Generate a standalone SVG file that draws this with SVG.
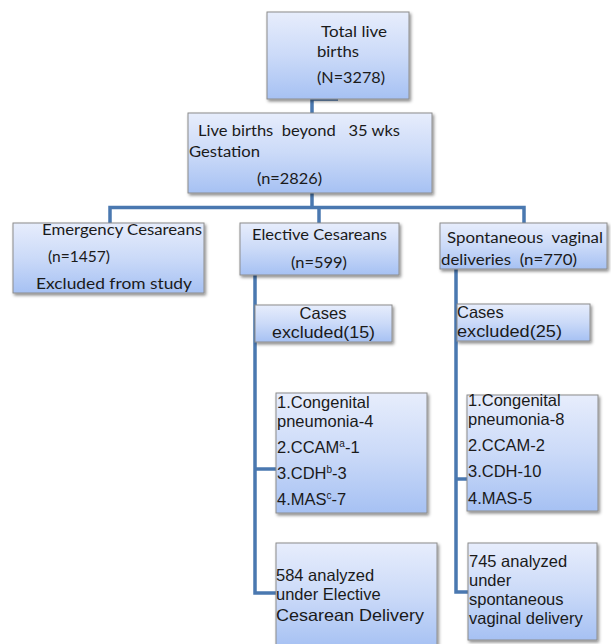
<svg xmlns="http://www.w3.org/2000/svg" width="611" height="644" viewBox="0 0 611 644">
<defs>
<linearGradient id="bg" x1="0" y1="0" x2="0" y2="1">
<stop offset="0" stop-color="#e7edfc"/>
<stop offset="0.5" stop-color="#cbdaf8"/>
<stop offset="1" stop-color="#a6c1f3"/>
</linearGradient>
<filter id="sh" x="-10%" y="-10%" width="130%" height="130%">
<feDropShadow dx="1.5" dy="2" stdDeviation="1.5" flood-color="#000" flood-opacity="0.45"/>
</filter>
</defs>
<style>
.box{fill:url(#bg);stroke:#8c8c8c;stroke-width:1;filter:url(#sh)}
.c{font-family:Lato,"Open Sans",sans-serif;font-size:15.5px;fill:#1a1a1a}
.a{font-family:"Liberation Sans",Arial,sans-serif;font-size:16.5px;fill:#1a1a1a}
.a2{font-family:"Liberation Sans",Arial,sans-serif;font-size:16.5px;fill:#1a1a1a}
.sup{font-size:10px}
.ln{fill:none;stroke:#4a78b0;stroke-width:3.5}
</style>
<rect width="611" height="644" fill="#fff"/>
<g id="connectors">
<path class="ln" d="M338,99 H312 V113"/>
<path class="ln" d="M312,193 V207.5"/>
<path class="ln" d="M110,223 V207.5 H524 V223"/>
<path class="ln" d="M319,207.5 V223"/>
<path class="ln" d="M255,275 V593 H277"/>
<path class="ln" d="M255,469 H277"/>
<path class="ln" d="M456,269 V592 H469"/>
<path class="ln" d="M456,479 H468"/>
</g>
<g id="total">
<rect class="box" x="267" y="12" width="142" height="87"/>
<text class="c" x="321" y="37" textLength="66" lengthAdjust="spacingAndGlyphs">Total live</text>
<text class="c" x="317" y="57" textLength="42" lengthAdjust="spacingAndGlyphs">births</text>
<text class="c" x="317" y="83" textLength="68" lengthAdjust="spacingAndGlyphs">(N=3278)</text>
</g>
<g id="beyond35">
<rect class="box" x="188" y="113" width="244" height="80"/>
<text class="c" x="198" y="136" xml:space="preserve" textLength="202" lengthAdjust="spacingAndGlyphs">Live births  beyond   35 wks</text>
<text class="c" x="189" y="157" textLength="71" lengthAdjust="spacingAndGlyphs">Gestation</text>
<text class="c" x="257" y="184" textLength="65" lengthAdjust="spacingAndGlyphs">(n=2826)</text>
</g>
<g id="emergency">
<rect class="box" x="13" y="223" width="191" height="70"/>
<text class="c" x="42" y="235" textLength="160" lengthAdjust="spacingAndGlyphs">Emergency Cesareans</text>
<text class="c" x="48" y="262" textLength="62" lengthAdjust="spacingAndGlyphs">(n=1457)</text>
<text class="c" x="36" y="289" textLength="156" lengthAdjust="spacingAndGlyphs">Excluded from study</text>
</g>
<g id="elective">
<rect class="box" x="240" y="223" width="159" height="52"/>
<text class="c" x="252" y="240" textLength="135" lengthAdjust="spacingAndGlyphs">Elective Cesareans</text>
<text class="c" x="291" y="268" textLength="56" lengthAdjust="spacingAndGlyphs">(n=599)</text>
</g>
<g id="spontaneous">
<rect class="box" x="440" y="223" width="167" height="46"/>
<text class="c" x="447" y="243" xml:space="preserve" textLength="156" lengthAdjust="spacingAndGlyphs">Spontaneous  vaginal</text>
<text class="c" x="441" y="265" xml:space="preserve" textLength="136" lengthAdjust="spacingAndGlyphs">deliveries  (n=770)</text>
</g>
<g id="excluded-elective">
<rect class="box" x="255" y="305" width="137" height="37"/>
<text class="a" x="323" y="319" text-anchor="middle">Cases</text>
<text class="a" x="272" y="338" textLength="103" lengthAdjust="spacingAndGlyphs">excluded(15)</text>
</g>
<g id="excluded-svd">
<rect class="box" x="457" y="304" width="133" height="37"/>
<text class="a" x="457" y="318">Cases</text>
<text class="a" x="457" y="337" textLength="105" lengthAdjust="spacingAndGlyphs">excluded(25)</text>
</g>
<g id="list-elective">
<rect class="box" x="276" y="393" width="151" height="120"/>
<text class="a" x="277" y="408">1.Congenital</text>
<text class="a" x="277" y="427">pneumonia-4</text>
<text class="a" x="277" y="453">2.CCAM<tspan class="sup" dy="-6">a</tspan><tspan dy="6">-1</tspan></text>
<text class="a" x="277" y="479">3.CDH<tspan class="sup" dy="-6">b</tspan><tspan dy="6">-3</tspan></text>
<text class="a" x="277" y="505">4.MAS<tspan class="sup" dy="-6">c</tspan><tspan dy="6">-7</tspan></text>
</g>
<g id="list-svd">
<rect class="box" x="467" y="395" width="131" height="116"/>
<text class="a" x="468" y="406">1.Congenital</text>
<text class="a" x="468" y="425">pneumonia-8</text>
<text class="a" x="468" y="451">2.CCAM-2</text>
<text class="a" x="468" y="477">3.CDH-10</text>
<text class="a" x="468" y="504">4.MAS-5</text>
</g>
<g id="analyzed-elective">
<rect class="box" x="276" y="543" width="161" height="105"/>
<text class="a2" x="276" y="581">584 analyzed</text>
<text class="a2" x="276" y="600">under Elective</text>
<text class="a2" x="276" y="621" textLength="148" lengthAdjust="spacingAndGlyphs">Cesarean Delivery</text>
</g>
<g id="analyzed-svd">
<rect class="box" x="468" y="543" width="129" height="97"/>
<text class="a2" x="469" y="567">745 analyzed</text>
<text class="a2" x="469" y="586">under</text>
<text class="a2" x="469" y="605">spontaneous</text>
<text class="a2" x="469" y="624">vaginal delivery</text>
</g>
</svg>
